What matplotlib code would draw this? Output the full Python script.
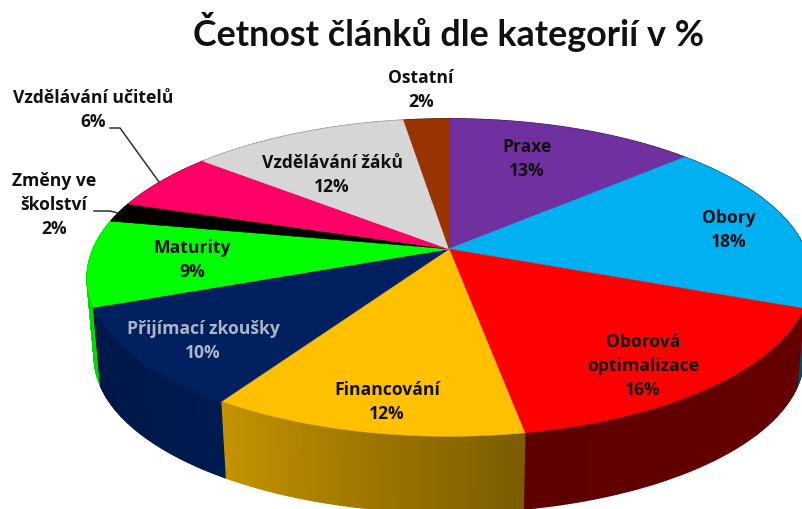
import numpy as np
import matplotlib
matplotlib.use("Agg")
import matplotlib.pyplot as plt
from matplotlib.collections import PolyCollection
from matplotlib.colors import to_rgb

plt.rcParams['font.family'] = ['Open Sans', 'Lato', 'DejaVu Sans']

title = "Četnost článků dle kategorií v %"
categories = ["Praxe", "Obory", "Oborová\noptimalizace", "Financování", "Přijímací zkoušky",
              "Maturity", "Změny ve\nškolství", "Vzdělávání učitelů", "Vzdělávání žáků", "Ostatní"]
values = [13.3, 17.6, 16.3, 11.9, 10.1, 8.8, 2.0, 6.0, 11.6, 2.4]
colors = ["#7030A0", "#00B0F0", "#FF0000", "#FFC000", "#002060",
          "#00FF00", "#000000", "#FF0066", "#D6D6D6", "#993300"]
text_colors = ["#111111", "#111111", "#111111", "#111111", "#AEB6C6",
               "#111111", "#111111", "#111111", "#111111", "#111111"]
label_pos = [(527, 159), (729, 230), (643, 366), (387, 402), (203, 341),
             (192, 260), (54, 205), (93, 110), (332, 175), (421, 90)]
side_shade = [(.5, .5), (.45, .42), (.40, .37), (.48, .77), (.84, .74),
              (.85, .85), (.6, .6), (.6, .6), (.6, .6), (.6, .6)]

CX, CY = 449.0, 250.0      # pie centre in pixels
R, RY, K = 356.0, 153.6, 0.18   # perspective ellipse
DEPTH, SHRINK = 80.0, 0.98  # extrusion of the pie wall


def project(phi, scale=1.0, dy=0.0):
    """phi: clockwise degrees from the top of the pie."""
    t = np.radians(90.0 - np.asarray(phi, float))
    w = 1.0 + K * np.sin(t)
    return CX + scale * R * np.cos(t) / w, CY + dy - scale * RY * np.sin(t) / w


fig = plt.figure(figsize=(8.02, 5.10), dpi=100, facecolor="white")
ax = fig.add_axes([0, 0, 1, 1])
ax.set_xlim(0, 802)
ax.set_ylim(510, 0)
ax.axis("off")

edges = np.concatenate([[0.0], np.cumsum(values) / np.sum(values) * 360.0])

# outer wall, painted from back to front
polys, fcs, keys = [], [], []
for i in range(len(values)):
    phis = np.arange(edges[i], edges[i + 1] + 1e-6, 0.5)
    if phis[-1] < edges[i + 1]:
        phis = np.append(phis, edges[i + 1])
    base = np.array(to_rgb(colors[i]))
    for a, b in zip(phis[:-1], phis[1:]):
        x1, y1 = project([a, b])
        x2, y2 = project([b, a], SHRINK, DEPTH)
        polys.append(np.column_stack([np.r_[x1, x2], np.r_[y1, y2]]))
        f = (0.5 * (a + b) - edges[i]) / (edges[i + 1] - edges[i])
        s0, s1 = side_shade[i]
        fcs.append(base * (s0 + (s1 - s0) * f))
        keys.append(np.cos(np.radians(0.5 * (a + b))))
order = np.argsort(keys)[::-1]
ax.add_collection(PolyCollection([polys[j] for j in order],
                                 facecolors=[fcs[j] for j in order],
                                 edgecolors=[fcs[j] for j in order], linewidths=1.0, zorder=1))

# top face
for i in range(len(values)):
    phis = np.linspace(edges[i], edges[i + 1], 90)
    x, y = project(phis)
    ax.fill(np.r_[CX, x], np.r_[CY, y], facecolor=colors[i], edgecolor=colors[i],
            linewidth=0.3, zorder=2)

# leader lines
ax.plot([110, 120, 159], [129, 129, 183], color="#303030", lw=1.1, zorder=3)
ax.plot([94, 110, 118], [212, 212, 214], color="#303030", lw=1.1, zorder=3)

# labels
for name, v, (x, y), tc in zip(categories, values, label_pos, text_colors):
    ax.text(x, y, f"{name}\n{v:.0f}%", ha="center", va="center", fontsize=12.6, fontweight="bold",
            color=tc, linespacing=1.42, zorder=4)

ax.text(449, 32, title, ha="center", va="center", fontsize=25.8, fontweight="bold",
        color="#111111", family=['Lato', 'DejaVu Sans'])

fig.savefig("out.png", dpi=100)
